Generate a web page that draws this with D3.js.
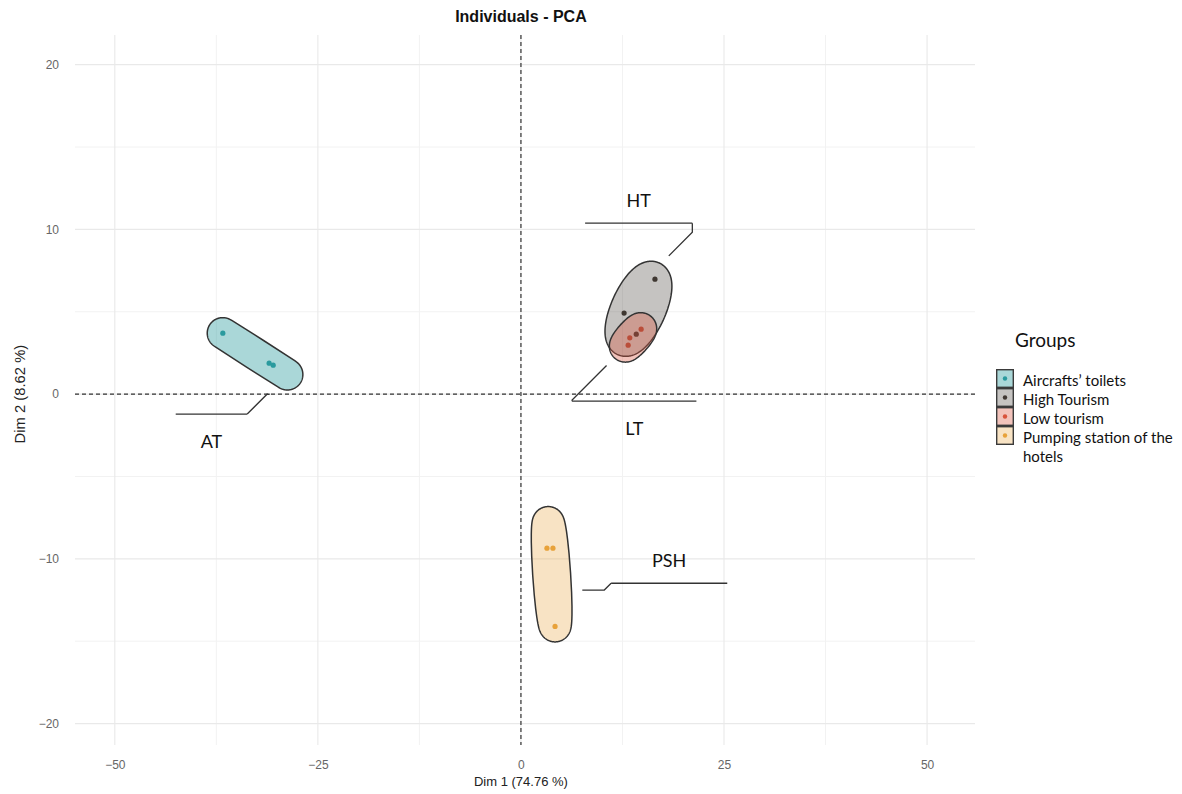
<!DOCTYPE html>
<html><head><meta charset="utf-8">
<script src="https://cdn.jsdelivr.net/npm/d3@7"></script>
<style>body{margin:0;background:#fff}svg{display:block}</style>
</head><body><svg id="chart" width="1182" height="794"></svg>
<script>
// ---------- data ----------
const groups = ["Aircrafts’ toilets", "High Tourism", "Low tourism", "Pumping station of the hotels"];
const groupAbbr = ["AT", "HT", "LT", "PSH"];
const groupColors = ["#2a9a9e", "#3f3732", "#d9533b", "#e8a23a"];
const groupFillOpacity = [0.4, 0.3, 0.35, 0.3];

const dim1 = [-36.7, -31.0, -30.5, 16.5, 12.7, 14.2, 14.8, 13.4, 13.2, 3.2, 3.94, 4.2];
const dim2 = [3.70, 1.88, 1.76, 6.98, 4.92, 3.64, 3.94, 3.42, 2.97, -9.35, -9.35, -14.1];
const pointGroup = [0, 0, 0, 1, 1, 1, 2, 2, 2, 3, 3, 3];

const xTicks = [-50, -25, 0, 25, 50];
const yTicks = [-20, -10, 0, 10, 20];
const xMinorTicks = [-37.5, -12.5, 12.5, 37.5];
const yMinorTicks = [-15, -5, 5, 15];

// label annotations (data units): underline extent and its level
const labelGroup = [0, 1, 2, 3];
const labelLineX0 = [-42.5, 7.9, 6.3, 11.1];
const labelLineX1 = [-33.7, 21.1, 21.6, 25.4];
const labelLineY = [-1.21, 10.38, -0.43, -11.48];
const labelSide = ["below", "above", "below", "above"];

// ---------- layout ----------
const svg = d3.select("#chart");
const panel = {left: 75, right: 975, top: 35, bottom: 745};
const x = d3.scaleLinear().domain([-54.9, 55.9]).range([panel.left, panel.right]);
const y = d3.scaleLinear().domain([21.8, -21.3]).range([panel.top, panel.bottom]);
const EXPAND = 15.5, CAP = 11;

// grid
const grid = svg.append("g");
grid.selectAll(".vmin").data(xMinorTicks).join("line")
  .attr("x1", d => x(d)).attr("x2", d => x(d)).attr("y1", panel.top).attr("y2", panel.bottom)
  .attr("stroke", "#f2f2f2").attr("stroke-width", 1);
grid.selectAll(".hmin").data(yMinorTicks).join("line")
  .attr("y1", d => y(d)).attr("y2", d => y(d)).attr("x1", panel.left).attr("x2", panel.right)
  .attr("stroke", "#f2f2f2").attr("stroke-width", 1);
grid.selectAll(".vmaj").data(xTicks).join("line")
  .attr("x1", d => x(d)).attr("x2", d => x(d)).attr("y1", panel.top).attr("y2", panel.bottom)
  .attr("stroke", "#e9e9e9").attr("stroke-width", 1.1);
grid.selectAll(".hmaj").data(yTicks).join("line")
  .attr("y1", d => y(d)).attr("y2", d => y(d)).attr("x1", panel.left).attr("x2", panel.right)
  .attr("stroke", "#e9e9e9").attr("stroke-width", 1.1);

// reference dashed lines
svg.append("line").attr("x1", x(0)).attr("x2", x(0)).attr("y1", panel.top).attr("y2", panel.bottom)
  .attr("stroke", "#333").attr("stroke-dasharray", "4,3").attr("stroke-width", 1.2);
svg.append("line").attr("y1", y(0)).attr("y2", y(0)).attr("x1", panel.left).attr("x2", panel.right)
  .attr("stroke", "#333").attr("stroke-dasharray", "4,3").attr("stroke-width", 1.2);

// axes (labels only)
const fmt = d3.format("");
const xAxis = svg.append("g").attr("transform", `translate(0,${panel.bottom + 12})`)
  .call(d3.axisBottom(x).tickValues(xTicks).tickSize(0).tickFormat(fmt));
const yAxis = svg.append("g").attr("transform", `translate(${panel.left - 13},0)`)
  .call(d3.axisLeft(y).tickValues(yTicks).tickSize(0).tickFormat(fmt));
[xAxis, yAxis].forEach(a => {
  a.select(".domain").remove();
  a.selectAll("text").attr("font-family", "Liberation Sans, Arial, sans-serif")
    .attr("font-size", 12).attr("fill", "#666");
});

// titles
svg.append("text").attr("x", x(0)).attr("y", 22).attr("text-anchor", "middle")
  .attr("font-family", "Liberation Sans, Arial, sans-serif").attr("font-weight", "bold")
  .attr("font-size", 16).attr("fill", "#111").text("Individuals - PCA");
svg.append("text").attr("x", x(0)).attr("y", 786).attr("text-anchor", "middle")
  .attr("font-family", "Liberation Sans, Arial, sans-serif").attr("font-size", 13)
  .attr("fill", "#222").text("Dim 1 (74.76 %)");
svg.append("text").attr("transform", `translate(25,${y(0)}) rotate(-90)`).attr("text-anchor", "middle")
  .attr("font-family", "Liberation Sans, Arial, sans-serif").attr("font-size", 14.8)
  .attr("fill", "#222").text("Dim 2 (8.62 %)");

// ---------- points ----------
const pts = dim1.map((d, i) => ({x: x(d), y: y(dim2[i]), g: pointGroup[i]}));
svg.append("g").selectAll("circle").data(pts).join("circle")
  .attr("cx", d => d.x).attr("cy", d => d.y).attr("r", 2.6)
  .attr("fill", d => groupColors[d.g]);

// ---------- enclosing ellipses (Khachiyan MVEE in pixel space + expansion) ----------
function inv3(m) {
  const [a, b, c] = m[0], [d, e, f] = m[1], [g, h, i] = m[2];
  const A = e * i - f * h, B = -(d * i - f * g), C = d * h - e * g;
  const det = a * A + b * B + c * C;
  return [[A / det, -(b * i - c * h) / det, (b * f - c * e) / det],
          [B / det, (a * i - c * g) / det, -(a * f - c * d) / det],
          [C / det, -(a * h - b * g) / det, (a * e - b * d) / det]];
}
function mvee(P) {
  const mx = d3.mean(P, p => p[0]), my = d3.mean(P, p => p[1]);
  const Q = P.map(p => [p[0] - mx, p[1] - my]);
  const N = Q.length, d = 2;
  let u = new Array(N).fill(1 / N);
  for (let it = 0; it < 20000; it++) {
    const X = [[0, 0, 0], [0, 0, 0], [0, 0, 0]];
    Q.forEach((p, k) => { const q = [p[0], p[1], 1];
      for (let a = 0; a < 3; a++) for (let b = 0; b < 3; b++) X[a][b] += u[k] * q[a] * q[b]; });
    const Xi = inv3(X);
    const M = Q.map(p => { const q = [p[0], p[1], 1]; let s = 0;
      for (let a = 0; a < 3; a++) for (let b = 0; b < 3; b++) s += q[a] * Xi[a][b] * q[b]; return s; });
    const j = d3.maxIndex(M);
    const step = (M[j] - d - 1) / ((d + 1) * (M[j] - 1));
    const nu = u.map(v => (1 - step) * v); nu[j] += step;
    const err = Math.hypot(...nu.map((v, k) => v - u[k]));
    u = nu;
    if (err < 1e-7) break;
  }
  const cx = d3.sum(Q, (p, k) => u[k] * p[0]), cy = d3.sum(Q, (p, k) => u[k] * p[1]);
  let sxx = 0, sxy = 0, syy = 0;
  Q.forEach((p, k) => { sxx += u[k] * p[0] * p[0]; sxy += u[k] * p[0] * p[1]; syy += u[k] * p[1] * p[1]; });
  sxx -= cx * cx; sxy -= cx * cy; syy -= cy * cy;
  const tr = (sxx + syy) / 2, disc = Math.sqrt(((sxx - syy) / 2) ** 2 + sxy ** 2);
  const l1 = tr + disc, l2 = Math.max(tr - disc, 1e-9);
  const theta = 0.5 * Math.atan2(2 * sxy, sxx - syy);
  return {cx: cx + mx, cy: cy + my, a: Math.sqrt(d * l1), b: Math.sqrt(d * l2), theta};
}
function expandedShape(E, r, n = 240) {
  const out = [];
  const ct = Math.cos(E.theta), st = Math.sin(E.theta);
  for (let k = 0; k < n; k++) {
    const phi = 2 * Math.PI * k / n;
    const cp = Math.cos(phi), sp = Math.sin(phi);
    const den = Math.sqrt(E.a * E.a * cp * cp + E.b * E.b * sp * sp);
    const lx = E.a * E.a * cp / den + r * cp, ly = E.b * E.b * sp / den + r * sp;
    out.push([E.cx + lx * ct - ly * st, E.cy + lx * st + ly * ct]);
  }
  return out;
}
const shapes = groups.map((g, gi) => expandedShape(mvee(pts.filter(p => p.g === gi).map(p => [p.x, p.y])), EXPAND));
const line = d3.line().curve(d3.curveLinearClosed);
svg.append("g").selectAll("path").data(shapes).join("path")
  .attr("d", d => line(d))
  .attr("fill", (d, i) => groupColors[i]).attr("fill-opacity", (d, i) => groupFillOpacity[i])
  .attr("stroke", "#333").attr("stroke-width", 1.5);

// ---------- labels with elbow connectors ----------
const lab = svg.append("g");
labelGroup.forEach((gi, k) => {
  const x0 = x(labelLineX0[k]), x1 = x(labelLineX1[k]), ly = y(labelLineY[k]);
  lab.append("line").attr("x1", x0).attr("x2", x1).attr("y1", ly).attr("y2", ly)
    .attr("stroke", "#333").attr("stroke-width", 1.3);
  lab.append("text").attr("x", (x0 + x1) / 2)
    .attr("y", labelSide[k] === "above" ? ly - 16 : ly + 34)
    .attr("text-anchor", "middle").attr("font-family", "Lato, 'Open Sans', sans-serif")
    .attr("font-size", 18).attr("fill", "#111").text(groupAbbr[gi]);
  // nearest shape point to each end of the underline
  let best = null;
  [[x0, ly], [x1, ly]].forEach(L => {
    shapes[gi].forEach(S => {
      const dd = Math.hypot(S[0] - L[0], S[1] - L[1]);
      if (!best || dd < best.d) best = {d: dd, L, S};
    });
  });
  const {L, S} = best;
  const ux = (L[0] - S[0]) / best.d, uy = (L[1] - S[1]) / best.d;
  const E = [S[0] + CAP * ux, S[1] + CAP * uy];
  const dx = E[0] - L[0], dy = E[1] - L[1];
  let P;
  if (Math.abs(dy) >= Math.abs(dx)) P = [L[0], E[1] - Math.sign(dy) * Math.abs(dx)];
  else P = [L[0] + Math.sign(dx) * Math.abs(dy), E[1]];
  lab.append("path").attr("d", d3.line()([L, P, E])).attr("fill", "none")
    .attr("stroke", "#333").attr("stroke-width", 1.3);
});

// ---------- legend ----------
const leg = svg.append("g").attr("transform", "translate(996,369)");
leg.append("text").attr("x", 19).attr("y", -22).attr("font-family", "Lato, 'Open Sans', sans-serif")
  .attr("font-size", 19).attr("fill", "#111").text("Groups");
const KEY_W = 18, KEY_H = 19;
groups.forEach((g, i) => {
  const row = leg.append("g").attr("transform", `translate(0,${i * KEY_H})`);
  row.append("rect").attr("width", KEY_W).attr("height", KEY_H).attr("fill", "#fff");
  row.append("rect").attr("x", 0.7).attr("y", 0.7).attr("width", KEY_W - 1.4).attr("height", KEY_H - 1.4)
    .attr("fill", groupColors[i]).attr("fill-opacity", groupFillOpacity[i])
    .attr("stroke", "#3a3a3a").attr("stroke-width", 1.4);
  row.append("circle").attr("cx", KEY_W / 2).attr("cy", KEY_H / 2).attr("r", 2.2).attr("fill", groupColors[i]);
  const words = g === "Pumping station of the hotels" ? ["Pumping station of the", "hotels"] : [g];
  words.forEach((w, j) => {
    row.append("text").attr("x", 27).attr("y", KEY_H / 2 + 7 + j * 19)
      .attr("font-family", "Lato, 'Open Sans', sans-serif").attr("font-size", 15)
      .attr("fill", "#111").text(w);
  });
});
</script></body></html>
